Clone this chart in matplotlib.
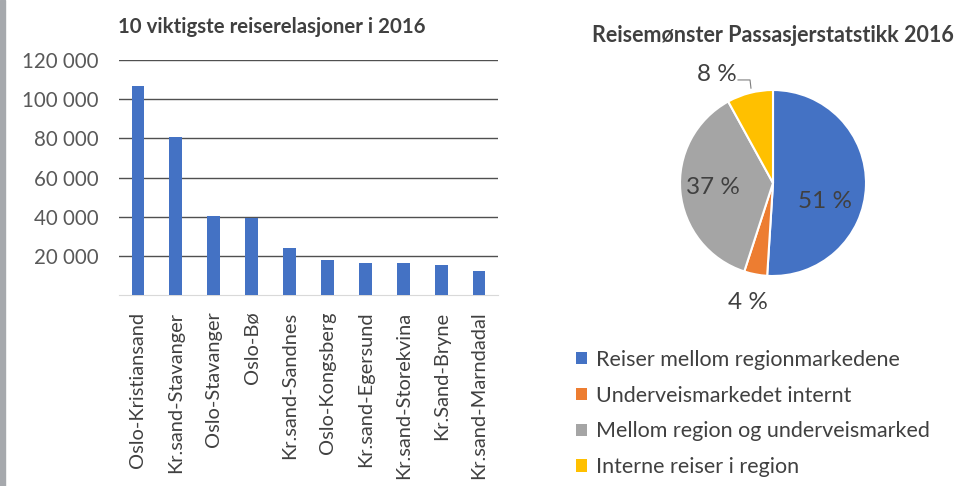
import matplotlib as mpl
import matplotlib.pyplot as plt
from matplotlib.patches import Patch, Rectangle

mpl.rcParams.update({
    "font.family": ["Lato", "DejaVu Sans"],
    "axes.spines.right": False,
    "axes.spines.top": False,
    "axes.spines.left": False,
})

# ── Data ──
routes = [
    "Oslo-Kristiansand", "Kr.sand-Stavanger", "Oslo-Stavanger", "Oslo-Bø",
    "Kr.sand-Sandnes", "Oslo-Kongsberg", "Kr.sand-Egersund",
    "Kr.sand-Storekvina", "Kr.Sand-Bryne", "Kr.sand-Marndadal",
]
trips = [106500, 80500, 40300, 39200, 24000, 17900, 16300, 16300, 15300, 12500]
yticks = [20000, 40000, 60000, 80000, 100000, 120000]

segments = [
    "Reiser mellom regionmarkedene",
    "Underveismarkedet internt",
    "Mellom region og underveismarked",
    "Interne reiser i region",
]
shares = [51, 4, 37, 8]
seg_colors = ["#4472C4", "#ED7D31", "#A5A5A5", "#FFC000"]
# label spots in pie units (radius = 1)
label_xy = [(0.56, -0.20), (-0.27, -1.28), (-0.645, -0.05), (-0.60, 1.17)]

W, H = 955, 486
TXT = "#404040"
fig = plt.figure(figsize=(W / 100, H / 100), dpi=100)

def px_axes(x0, y_top, w, h):
    return fig.add_axes([x0 / W, (H - y_top - h) / H, w / W, h / H])

# grey strip at the left edge
fig.patches.append(Rectangle((0, 0), 5 / W, 1, transform=fig.transFigure,
                             color="#a6a9ad", zorder=0))

# ── Bar chart ──
ax = px_axes(119, 60, 379, 235)
x = range(len(routes))
ax.bar(x, trips, width=0.34, color="#4472C4", zorder=3)
ax.set_ylim(0, 120000)
ax.set_xlim(-0.5, len(routes) - 0.5)
ax.set_yticks(yticks)
ax.set_yticklabels([f"{v:,}".replace(",", " ") for v in yticks],
                   fontsize=14.8, color="#595959")
ax.tick_params(axis="y", length=0, pad=15)
ax.yaxis.grid(True, color="#505050", linewidth=1)
ax.set_axisbelow(True)
ax.spines["bottom"].set_color("#d9d9d9")
ax.set_xticks(list(x))
ax.set_xticklabels(routes, rotation=90, fontsize=14.4, color="#404040", va="top")
ax.tick_params(axis="x", length=0, pad=12)
fig.text(118 / W, 1 - 27 / H, "10 viktigste reiserelasjoner i 2016",
         fontsize=14.7, fontweight="bold", color=TXT, va="center", ha="left")

# ── Pie chart ──
R = 93
pa = px_axes(773 - R, 183 - R, 2 * R, 2 * R)
wedges, _ = pa.pie(shares, colors=seg_colors, startangle=90, counterclock=False,
                   wedgeprops=dict(edgecolor="white", linewidth=1.5))
pa.set_xlim(-1, 1)
pa.set_ylim(-1, 1)
pa.set_aspect("equal")
for v, (lx, ly) in zip(shares, label_xy):
    pa.text(lx, ly, f"{v} %", fontsize=17.5, color=TXT,
            ha="center", va="center", clip_on=False)
pa.plot([-0.376, -0.247, -0.237], [1.108, 1.108, 1.02],
        color="#7f7f7f", linewidth=0.8, clip_on=False)
fig.text(773 / W, 1 - 35 / H, "Reisemønster Passasjerstatstikk 2016",
         fontsize=15.5, fontweight="bold", color=TXT, va="center", ha="center")

handles = [Patch(facecolor=c) for c in seg_colors]
fig.legend(handles, segments, loc="upper left",
           bbox_to_anchor=(576 / W, 1 - 350 / H), frameon=False,
           fontsize=15.5, labelcolor=TXT, handlelength=0.5, handleheight=0.5,
           handletextpad=0.45, labelspacing=0.73, borderpad=0, borderaxespad=0)

fig.savefig("out.png", dpi=100)
